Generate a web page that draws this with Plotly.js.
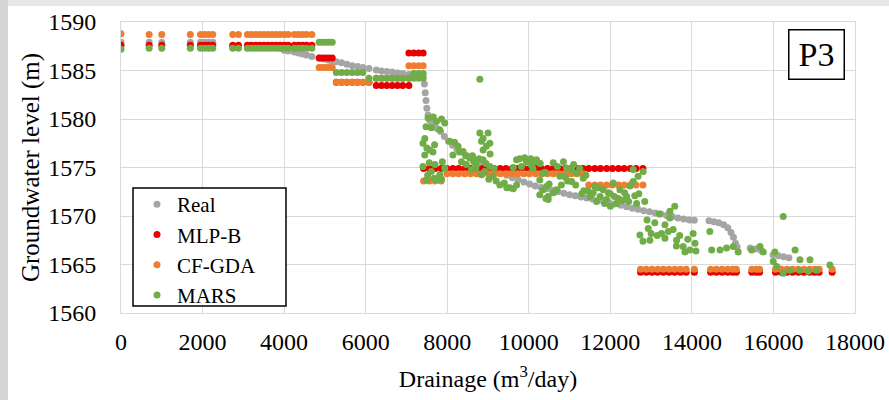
<!DOCTYPE html>
<html>
<head>
<meta charset="utf-8">
<script src="https://cdn.plot.ly/plotly-3.0.1.min.js"></script>
<style>html,body{margin:0;padding:0;background:#fff;}#chart{width:889px;height:400px;}</style>
</head>
<body>
<div id="chart"></div>
<script>
// ---- Data ----
const xTicks = [0, 2000, 4000, 6000, 8000, 10000, 12000, 14000, 16000, 18000];
const yTicks = [1560, 1565, 1570, 1575, 1580, 1585, 1590];
const seriesNames = ["Real", "MLP-B", "CF-GDA", "MARS"];

// Drainage (m3/day) of the model-prediction points (MLP-B and CF-GDA)
const modelDrain = [
  0, 690, 1000, 1700, 1950, 2050, 2150, 2250, 2740, 2880, 3100, 3200, 3300, 3400, 3500, 3600, 3700, 3800, 3900, 4000, 4100, 4250, 4350, 4450, 4550, 4680,
  4860, 4940, 5020, 5100, 5180,
  5280, 5410, 5540, 5670, 5800, 5930, 6080,
  6260, 6390, 6520, 6650, 6780, 6910, 7060,
  7060, 7180, 7300, 7410,
  7420, 7560, 7700, 7850, 7990, 8140, 8280, 8430, 8570, 8720, 8860, 9010, 9150, 9300, 9440, 9590, 9730, 9880, 10020, 10170,
  10310, 10460, 10600, 10750, 10890, 11040, 11180, 11330, 11470, 11620, 11760, 11910, 12050, 12200, 12340, 12490, 12630, 12800,
  12740, 12880, 13020, 13160, 13300, 13440, 13580, 13720, 13860, 14060,
  14460, 14600, 14740, 14880, 15000, 15090,
  15470, 15580, 15660,
  16050, 16190, 16330, 16470, 16610, 16750, 16890, 17010, 17120,
  17440
];

const mlpLevel = [
  1587.6, 1587.6, 1587.6, 1587.6, 1587.6, 1587.6, 1587.6, 1587.6, 1587.6, 1587.6, 1587.6, 1587.6, 1587.6, 1587.6, 1587.6, 1587.6, 1587.6, 1587.6, 1587.6, 1587.6, 1587.6, 1587.6, 1587.6, 1587.6, 1587.6, 1587.6,
  1586.3, 1586.3, 1586.3, 1586.3, 1586.3,
  1583.8, 1583.8, 1583.8, 1583.8, 1583.8, 1583.8, 1583.8,
  1583.45, 1583.45, 1583.45, 1583.45, 1583.45, 1583.45, 1583.45,
  1586.8, 1586.8, 1586.8, 1586.8,
  1574.9, 1574.9, 1574.9, 1574.9, 1574.9, 1574.9, 1574.9, 1574.9, 1574.9, 1574.9, 1574.9, 1574.9, 1574.9, 1574.9, 1574.9, 1574.9, 1574.9, 1574.9, 1574.9, 1574.9,
  1574.9, 1574.9, 1574.9, 1574.9, 1574.9, 1574.9, 1574.9, 1574.9, 1574.9, 1574.9, 1574.9, 1574.9, 1574.9, 1574.9, 1574.9, 1574.9, 1574.9, 1574.9,
  1564.2, 1564.2, 1564.2, 1564.2, 1564.2, 1564.2, 1564.2, 1564.2, 1564.2, 1564.2,
  1564.2, 1564.2, 1564.2, 1564.2, 1564.2, 1564.2,
  1564.2, 1564.2, 1564.2,
  1564.2, 1564.2, 1564.2, 1564.2, 1564.2, 1564.2, 1564.2, 1564.2, 1564.2,
  1564.2
];

const cfLevel = [
  1588.8, 1588.7, 1588.7, 1588.7, 1588.7, 1588.7, 1588.7, 1588.7, 1588.7, 1588.7, 1588.7, 1588.7, 1588.7, 1588.7, 1588.7, 1588.7, 1588.7, 1588.7, 1588.7, 1588.7, 1588.7, 1588.7, 1588.7, 1588.7, 1588.7, 1588.7,
  1585.3, 1585.3, 1585.3, 1585.3, 1585.3,
  1583.8, 1583.8, 1583.8, 1583.8, 1583.8, 1583.8, 1583.8,
  1584.2, 1584.2, 1584.2, 1584.2, 1584.2, 1584.2, 1584.2,
  1585.5, 1585.5, 1585.5, 1585.5,
  1573.6, 1573.6, 1573.6, 1573.6, 1574.35, 1574.35, 1574.35, 1574.35, 1574.35, 1574.35, 1574.35, 1574.35, 1574.35, 1574.35, 1574.35, 1574.35, 1574.35, 1574.35, 1574.35, 1574.35,
  1574.35, 1574.35, 1574.35, 1574.35, 1574.35, 1574.35, 1574.35, 1574.35, 1573.2, 1573.2, 1573.2, 1573.2, 1573.2, 1573.2, 1573.2, 1573.2, 1573.2, 1573.2,
  1564.5, 1564.5, 1564.5, 1564.5, 1564.5, 1564.5, 1564.5, 1564.5, 1564.5, 1564.5,
  1564.5, 1564.5, 1564.5, 1564.5, 1564.5, 1564.5,
  1564.5, 1564.5, 1564.5,
  1564.5, 1564.5, 1564.5, 1564.5, 1564.5, 1564.5, 1564.5, 1564.5, 1564.5,
  1564.5
];

// Observed groundwater level
const realDrain = [
  0, 690, 1000, 1700, 1950, 2050, 2150, 2250, 2740, 2880, 3100, 3200, 3300, 3400, 3500, 3600, 3700, 3800, 3900, 4000, 4100, 4250, 4350, 4450, 4550, 4680,
  4860, 4940, 5020, 5100, 5180, 5280, 5410, 5540, 5670, 5800, 5930, 6080, 6260, 6390, 6520, 6650, 6780, 6910, 7060, 7180, 7300, 7410,
  7440, 7460, 7480, 7500, 7530, 7570, 7620, 7680, 7760, 7840, 7930, 8030, 8130, 8240, 8360, 8490, 8620, 8760, 8900, 9040, 9180, 9320,
  9460, 9600, 9740, 9880, 10020, 10160, 10300, 10440, 10580, 10720, 10860, 11000, 11140, 11280, 11420, 11560, 11700, 11840, 11980,
  12120, 12260, 12400, 12540, 12680, 12820, 12960, 13100, 13240, 13380, 13520, 13660, 13800, 13940, 14060,
  14420, 14540, 14660, 14780, 14880, 14960, 15020, 15070, 15110,
  15430, 15560, 15700,
  15990, 16120, 16250, 16380
];
const realLevel = [
  1587.9, 1587.9, 1587.9, 1587.9, 1587.9, 1587.9, 1587.9, 1587.9, 1587.5, 1587.5, 1587.5, 1587.5, 1587.5, 1587.5, 1587.5, 1587.5, 1587.5, 1587.5, 1587.3, 1587.1, 1587.0, 1586.9, 1586.8, 1586.7, 1586.6, 1586.45,
  1586.3, 1586.2, 1586.15, 1586.05, 1586.0, 1585.9, 1585.8, 1585.65, 1585.5, 1585.4, 1585.3, 1585.2, 1585.05, 1584.95, 1584.9, 1584.85, 1584.75, 1584.7, 1584.6, 1584.5, 1584.45, 1584.35,
  1583.6, 1582.7, 1581.9, 1581.1, 1580.4, 1579.9, 1579.6, 1579.3, 1579.0, 1578.7, 1578.2, 1577.7, 1577.3, 1576.9, 1576.6, 1576.2, 1575.9, 1575.6, 1575.3, 1575.05, 1574.8, 1574.5,
  1574.2, 1573.95, 1573.75, 1573.5, 1573.3, 1573.1, 1572.95, 1572.8, 1572.65, 1572.5, 1572.35, 1572.2, 1572.1, 1571.95, 1571.85, 1571.75, 1571.6, 1571.5, 1571.35,
  1571.25, 1571.1, 1570.95, 1570.8, 1570.7, 1570.55, 1570.45, 1570.3, 1570.2, 1570.05, 1569.95, 1569.8, 1569.7, 1569.6, 1569.55,
  1569.5, 1569.4, 1569.3, 1569.1, 1568.8, 1568.3, 1567.8, 1567.2, 1566.8,
  1566.7, 1566.6, 1566.45,
  1566.0, 1565.9, 1565.8, 1565.7
];

// MARS predictions
const marsDrain = [
  0, 690, 1000, 1700, 1950, 2050, 2150, 2250, 2740, 2880, 3100, 3200, 3300, 3400, 3500, 3600, 3700, 3800, 3900, 4000, 4100, 4250, 4350, 4450, 4550, 4680,
  4860, 4940, 5020, 5100, 5180,
  5280, 5410, 5540, 5670, 5800, 5930,
  6080, 6260, 6390, 6520, 6650, 6780, 6910, 7060, 7180, 7300, 7410,
  7180, 7300, 7410, 8800,
  7530, 7735, 7940, 7610, 7815, 7405, 7570, 7450, 7690, 7405, 7610, 7815, 7490, 7735, 7940,
  7480, 7660, 7860, 7500, 7650, 7560, 7700, 7880, 7520, 7680, 7860, 7450,
  8060, 8265, 8140, 8390, 8350, 8550, 8715, 8595, 8880, 9045, 8840, 9125, 8800, 9000, 8840, 9045,
  8180, 8300, 8450, 8470, 8620, 8650, 8780, 8700, 8950, 9150, 8920, 9020, 9200,
  8880, 8960, 8880, 9050, 9290, 9535, 9700, 9700, 9945, 10190, 9820, 9780, 10050, 9620,
  9400, 9460, 9620, 9900, 10050, 10280, 10100, 10400, 10500, 10600, 10420,
  10270, 10350, 10475, 10150, 10600, 10435, 10270, 10680, 10475, 10350, 10760, 10900, 11050,
  10800, 10950, 11150, 11250, 11400, 10700, 10850, 11100, 11350, 11450,
  10925, 11170, 11335, 11050, 11500, 11660, 11905, 12150, 12400, 11825, 12070, 11620, 12235, 11300, 11750, 12300, 12000,
  11580, 11700, 11950, 12100, 12200, 12350, 12450, 12600, 12700, 12480, 12680, 11860, 12000,
  12560, 12805, 12560, 12645, 12845, 12725, 12970, 12930, 13090, 13255, 13340, 13460, 13580, 13540, 13625,
  12800, 12900, 13150, 13200, 13000, 13700, 13900, 14100, 13620,
  13460, 13420, 13340, 13785, 13950, 13830, 14030, 14075,
  14440, 14485, 14690, 14850, 15015, 15135,
  15465, 15670, 15750, 16035, 16240, 16530, 16650, 16895,
  16080, 16240, 16405, 16650, 16855, 17060, 17385, 15995
];
const marsLevel = [
  1587.2, 1587.3, 1587.3, 1587.3, 1587.3, 1587.3, 1587.3, 1587.3, 1587.3, 1587.3, 1587.3, 1587.3, 1587.3, 1587.3, 1587.3, 1587.3, 1587.3, 1587.3, 1587.3, 1587.3, 1587.3, 1587.3, 1587.3, 1587.3, 1587.3, 1587.3,
  1587.9, 1587.9, 1587.9, 1587.9, 1587.9,
  1584.8, 1584.8, 1584.8, 1584.8, 1584.8, 1584.8,
  1584.2, 1584.2, 1584.2, 1584.2, 1584.2, 1584.2, 1584.2, 1584.2, 1584.2, 1584.2, 1584.2,
  1584.7, 1584.7, 1584.7, 1584.1,
  1580.1, 1579.75, 1579.6, 1579.1, 1578.9, 1577.5, 1576.8, 1576.3, 1577.35, 1575.1, 1574.6, 1574.25, 1573.7, 1573.7, 1574.95,
  1579.2, 1580.2, 1580.0, 1577.0, 1576.6, 1575.5, 1575.3, 1575.6, 1574.2, 1573.9, 1573.8, 1578.0,
  1577.7, 1577.2, 1576.3, 1576.65, 1575.6, 1575.97, 1575.3, 1574.8, 1575.8, 1575.1, 1574.25, 1574.1, 1578.55, 1578.55, 1577.7, 1577.5,
  1577.6, 1576.6, 1576.2, 1575.3, 1576.2, 1575.6, 1575.9, 1574.9, 1575.4, 1574.9, 1574.6, 1573.8, 1573.6,
  1578.0, 1577.2, 1576.8, 1576.4, 1573.2, 1572.9, 1573.2, 1575.8, 1575.6, 1575.8, 1575.1, 1575.9, 1575.3, 1575.0,
  1573.4, 1572.9, 1572.8, 1576.0, 1575.9, 1575.4, 1574.9, 1574.5, 1573.3, 1572.4, 1571.8,
  1573.7, 1572.7, 1572.0, 1575.6, 1575.5, 1573.05, 1572.2, 1572.7, 1571.7, 1574.4, 1574.1, 1574.0, 1574.8,
  1573.2, 1573.6, 1573.2, 1574.9, 1574.2, 1575.1, 1575.6, 1575.3, 1572.6, 1572.6,
  1574.95, 1574.4, 1573.9, 1573.55, 1572.0, 1571.5, 1571.7, 1571.3, 1572.0, 1572.7, 1573.4, 1573.05, 1572.7, 1572.3, 1572.0, 1571.6, 1572.3,
  1572.4, 1572.9, 1572.4, 1572.0, 1571.8, 1572.4, 1571.5, 1572.1, 1572.3, 1573.1, 1574.1, 1571.3, 1571.0,
  1574.8, 1574.6, 1573.55, 1571.3, 1571.5, 1568.05, 1567.5, 1568.7, 1569.3, 1568.2, 1569.1, 1569.8, 1571.0, 1568.6, 1567.5,
  1567.4, 1569.6, 1568.0, 1570.2, 1568.2, 1568.0, 1567.6, 1566.4, 1566.9,
  1570.5, 1568.4, 1567.7, 1566.85, 1566.5, 1566.3, 1568.2, 1567.2,
  1568.4, 1566.5, 1566.5, 1566.7, 1566.85, 1566.3,
  1566.5, 1566.85, 1566.3, 1566.3, 1569.95, 1566.5, 1565.5, 1565.5,
  1564.8, 1564.1, 1564.4, 1564.4, 1564.3, 1564.4, 1564.95, 1565.3
];

// ---- Chart ----
const W = 889, H = 400;
const M = {l: 121, r: 34, t: 22, b: 87};
const PW = W - M.l - M.r, PH = H - M.t - M.b;
const px = v => (v - M.l) / PW;           // pixel -> paper x
const py = v => (H - M.b - v) / PH;       // pixel -> paper y

function mk(name, x, y, color) {
  return {type: 'scatter', mode: 'markers', name: name, x: x, y: y,
          marker: {size: 7, color: color, line: {width: 0}}, hoverinfo: 'skip'};
}

const traces = [
  mk(seriesNames[0], realDrain, realLevel, '#a5a5a5'),
  mk(seriesNames[1], modelDrain, mlpLevel, '#e80000'),
  mk(seriesNames[2], modelDrain, cfLevel, '#ed7d31'),
  mk(seriesNames[3], marsDrain, marsLevel, '#70ad47')
];

const grid = '#d9d9d9';
const FONT = 'Liberation Serif';

const layout = {
  width: W, height: H,
  margin: {l: M.l, r: M.r, t: M.t, b: M.b, pad: 0},
  paper_bgcolor: '#ffffff', plot_bgcolor: '#ffffff',
  font: {family: FONT, color: '#000000', size: 24},
  showlegend: true,
  xaxis: {
    range: [0, 18000], tickvals: xTicks, ticktext: xTicks.map(String),
    showgrid: true, gridcolor: grid, gridwidth: 1, zeroline: false,
    showline: true, linecolor: grid, linewidth: 1, mirror: true,
    ticks: 'outside', ticklen: 7, tickcolor: 'rgba(0,0,0,0)',
    tickfont: {family: FONT, size: 24, color: '#000'},
    title: {text: 'Drainage (m<sup>3</sup>/day)', font: {family: FONT, size: 24, color: '#000'}, standoff: 16}
  },
  yaxis: {
    range: [1560, 1590], tickvals: yTicks, ticktext: yTicks.map(String),
    showgrid: true, gridcolor: grid, gridwidth: 1, zeroline: false,
    showline: true, linecolor: grid, linewidth: 1, mirror: true,
    ticks: 'outside', ticklen: 19, tickcolor: 'rgba(0,0,0,0)',
    tickfont: {family: FONT, size: 24, color: '#000'},
    title: {text: 'Groundwater level (m)', font: {family: FONT, size: 25, color: '#000'}, standoff: 1}
  },
  legend: {
    x: px(137), y: py(184), xanchor: 'left', yanchor: 'top',
    bgcolor: 'rgba(0,0,0,0)', bordercolor: '#000000', borderwidth: 0,
    font: {family: FONT, size: 21, color: '#000'},
    itemsizing: 'trace', tracegroupgap: 0
  },
  annotations: [{
    xref: 'paper', yref: 'paper', x: px(816), y: py(54), xanchor: 'center', yanchor: 'middle',
    text: 'P3', showarrow: false, font: {family: FONT, size: 34, color: '#000'},
    bordercolor: '#000000', borderwidth: 1.5, borderpad: 3, bgcolor: '#ffffff', width: 48, height: 42
  }],
  shapes: [
    {type: 'rect', xref: 'paper', yref: 'paper', x0: px(133), x1: px(286), y0: py(306), y1: py(188),
     fillcolor: '#ffffff', line: {width: 1.5, color: '#000000'}, layer: 'above'},
    {type: 'rect', xref: 'paper', yref: 'paper', x0: px(0), x1: px(8), y0: py(400), y1: py(0),
     fillcolor: '#d4d4d4', line: {width: 0}, layer: 'above'},
    {type: 'rect', xref: 'paper', yref: 'paper', x0: px(8), x1: px(889), y0: py(6), y1: py(0),
     fillcolor: '#e6e6e6', line: {width: 0}, layer: 'above'}
  ]
};

Plotly.newPlot('chart', traces, layout, {staticPlot: true, displayModeBar: false});
</script>
</body>
</html>
